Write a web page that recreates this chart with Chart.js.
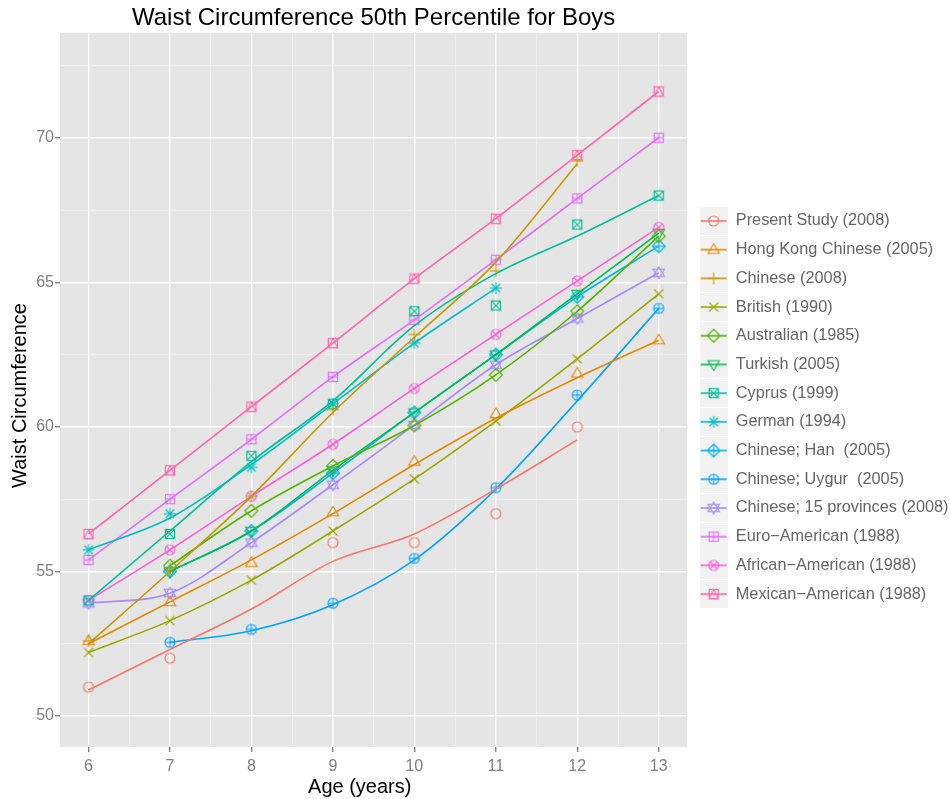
<!DOCTYPE html>
<html>
<head>
<meta charset="utf-8">
<script src="https://cdn.jsdelivr.net/npm/chart.js@4/dist/chart.umd.min.js"></script>
<style>
  html, body { margin: 0; padding: 0; background: #fff; }
  #chart { display: block; }
</style>
</head>
<body>
<canvas id="chart" width="950" height="799"></canvas>
<script>
// ages on the x axis
const ages = [6, 7, 8, 9, 10, 11, 12, 13];
const xTicks = [6, 7, 8, 9, 10, 11, 12, 13];
const yTicks = [50, 55, 60, 65, 70];

const seriesNames = [
  'Present Study (2008)', 'Hong Kong Chinese (2005)', 'Chinese (2008)', 'British (1990)',
  'Australian (1985)', 'Turkish (2005)', 'Cyprus (1999)', 'German (1994)',
  'Chinese; Han  (2005)', 'Chinese; Uygur  (2005)', 'Chinese; 15 provinces (2008)',
  'Euro\u2212American (1988)', 'African\u2212American (1988)', 'Mexican\u2212American (1988)'
];

// observed 50th percentile values, ages 6..13 (null = not reported)
const presentStudy   = [51.0, 52.0, null, 56.0, 56.0, 57.0, 60.0, null];
const hongKong       = [52.6, 53.95, 55.3, 57.05, 58.8, 60.45, 61.85, 63.0];
const chinese2008    = [52.6, 55.1, 57.6, 60.6, 63.2, 65.4, 69.2, null];
const british        = [52.2, 53.3, 54.7, 56.4, 58.2, 60.2, 62.35, 64.6];
const australian     = [null, 55.2, 57.1, 58.65, 60.05, 61.8, 64.0, 66.6];
const turkish        = [null, 55.0, 56.4, 58.5, 60.5, 62.5, 64.6, 66.7];
const cyprus         = [54.0, 56.3, 59.0, 60.8, 64.0, 64.2, 67.0, 68.0];
const german         = [55.75, 57.0, 58.6, 60.8, 62.9, 64.8, null, null];
const chineseHan     = [null, 55.0, 56.4, 58.4, 60.5, 62.5, 64.5, 66.25];
const chineseUygur   = [null, 52.55, 53.0, 53.9, 55.45, 57.9, 61.1, 64.1];
const chinese15      = [53.9, 54.25, 56.0, 58.0, 60.07, 62.15, 63.75, 65.33];
const euroAmerican   = [55.4, 57.5, 59.57, 61.73, 63.7, 65.78, 67.9, 70.0];
const africanAmerican = [54.0, 55.75, 57.6, 59.4, 61.33, 63.2, 65.05, 66.9];
const mexicanAmerican = [56.3, 58.5, 60.7, 62.9, 65.13, 67.2, 69.4, 71.6];

// smoothed curves where they differ from the points
const presentStudyFit = [50.9, 52.3, 53.7, 55.35, 56.3, 57.85, 59.55, null];
const hongKongFit     = [52.5, 53.95, 55.4, 57.0, 58.7, 60.3, 61.7, 63.0];
const chinese2008Fit  = [52.5, 55.0, 57.6, 60.5, 63.1, 65.7, 69.1, null];
const cyprusFit       = [54.0, 56.4, 58.8, 60.9, 63.5, 65.3, 66.6, 68.0];
const germanFit       = [55.75, 56.85, 58.7, 60.8, 62.9, 64.8, null, null];
const chineseUygurFit = [null, 52.55, 52.95, 53.85, 55.4, 57.85, 60.9, 64.1];

const pointSets = [presentStudy, hongKong, chinese2008, british, australian, turkish, cyprus,
  german, chineseHan, chineseUygur, chinese15, euroAmerican, africanAmerican, mexicanAmerican];
const fitSets = [presentStudyFit, hongKongFit, chinese2008Fit, british, australian, turkish, cyprusFit,
  germanFit, chineseHan, chineseUygurFit, chinese15, euroAmerican, africanAmerican, mexicanAmerican];

const colors = ['#F8766D', '#E38900', '#C49A00', '#99A800', '#53B400', '#00BC56', '#00C094',
  '#00BFC4', '#00B6EB', '#06A4FF', '#A58AFF', '#DF70F8', '#FB61D7', '#FF66A8'];

// ggplot-like open shapes 1..14
function drawShape(g, shape, color, x, y, r) {
  g.strokeStyle = color;
  g.lineWidth = 1.1;
  const seg = (x1, y1, x2, y2) => { g.beginPath(); g.moveTo(x1, y1); g.lineTo(x2, y2); g.stroke(); };
  const poly = pts => {
    g.beginPath();
    pts.forEach((p, i) => i ? g.lineTo(x + p[0], y + p[1]) : g.moveTo(x + p[0], y + p[1]));
    g.closePath(); g.stroke();
  };
  const circle = () => { g.beginPath(); g.arc(x, y, r, 0, Math.PI * 2); g.stroke(); };
  const s = r * 0.92;
  const square = () => g.strokeRect(x - s, y - s, 2 * s, 2 * s);
  const h = r * 1.2;
  const triUp = () => poly([[0, -h], [h * 0.95, h * 0.62], [-h * 0.95, h * 0.62]]);
  const triDown = () => poly([[0, h], [h * 0.95, -h * 0.62], [-h * 0.95, -h * 0.62]]);
  const plus = k => { seg(x - k, y, x + k, y); seg(x, y - k, x, y + k); };
  const cross = k => { seg(x - k, y - k, x + k, y + k); seg(x - k, y + k, x + k, y - k); };
  const d = r * 1.3;
  const diamond = () => poly([[0, -d], [d, 0], [0, d], [-d, 0]]);
  switch (shape) {
    case 1: circle(); break;
    case 2: triUp(); break;
    case 3: plus(r * 1.2); break;
    case 4: cross(r * 0.9); break;
    case 5: diamond(); break;
    case 6: triDown(); break;
    case 7: square(); cross(s); break;
    case 8: plus(r * 1.2); cross(r * 0.85); break;
    case 9: diamond(); plus(d); break;
    case 10: circle(); plus(r); break;
    case 11: triUp(); triDown(); break;
    case 12: square(); plus(s); break;
    case 13: circle(); cross(r * 0.7); break;
    case 14: square(); poly([[-s, s], [s, s], [0, -s]]); break;
  }
}

function pointImage(i) {
  const c = document.createElement('canvas');
  c.width = 16; c.height = 16;
  drawShape(c.getContext('2d'), i + 1, colors[i], 8, 8, 5);
  return c;
}

function keyImage(i) {
  const c = document.createElement('canvas');
  c.width = 28; c.height = 28;
  const g = c.getContext('2d');
  g.fillStyle = '#f2f2f2';
  g.fillRect(0, 0, 28, 28);
  g.strokeStyle = colors[i];
  g.lineWidth = 1.6;
  g.beginPath(); g.moveTo(1, 14); g.lineTo(27, 14); g.stroke();
  drawShape(g, i + 1, colors[i], 14, 14, 5);
  return c;
}

const toXY = arr => ages.map((a, k) => ({ x: a, y: arr[k] })).filter(p => p.y !== null);

const datasets = [];
seriesNames.forEach((name, i) => {
  datasets.push({
    type: 'line', label: name + ' fit', data: toXY(fitSets[i]),
    borderColor: colors[i], borderWidth: 1.6, pointRadius: 0, fill: false,
    cubicInterpolationMode: 'monotone', order: 1
  });
  datasets.push({
    type: 'scatter', label: name, data: toXY(pointSets[i]),
    pointStyle: pointImage(i), pointRadius: 5, showLine: false, order: 2
  });
});

const panel = {
  id: 'panel',
  beforeDraw(chart) {
    const { ctx, chartArea: a } = chart;
    ctx.save();
    ctx.fillStyle = '#ffffff';
    ctx.fillRect(0, 0, chart.width, chart.height);
    ctx.fillStyle = '#e5e5e5';
    ctx.fillRect(a.left, a.top, a.right - a.left, a.bottom - a.top);
    ctx.restore();
  }
};

const font = 'Liberation Sans, Arial, Helvetica, sans-serif';
const keys = seriesNames.map((_, i) => keyImage(i));

new Chart(document.getElementById('chart'), {
  data: { datasets },
  plugins: [panel],
  options: {
    responsive: false,
    animation: false,
    devicePixelRatio: 1,
    layout: { padding: { right: -13, top: 0, bottom: 0, left: 0 } },
    plugins: {
      tooltip: { enabled: false },
      title: {
        display: true, fullSize: false,
        text: 'Waist Circumference 50th Percentile for Boys',
        color: '#000', font: { family: font, size: 24, weight: 'normal', lineHeight: 1.2 },
        padding: { top: 4, bottom: 0 }
      },
      legend: {
        position: 'right',
        maxWidth: 320,
        title: { display: true, text: '', font: { size: 10, lineHeight: 1.2 }, padding: { top: 2, bottom: 2 } },
        labels: {
          usePointStyle: true, pointStyleWidth: 28, padding: 12.4,
          color: '#1a1a1a', font: { family: font, size: 16.3 },
          generateLabels: chart => seriesNames.map((name, i) => ({
            text: name + '\u00a0', pointStyle: keys[i], fillStyle: colors[i],
            strokeStyle: 'rgba(0,0,0,0)', lineWidth: 0, hidden: false, datasetIndex: i * 2 + 1
          }))
        }
      }
    },
    scales: {
      x: {
        type: 'linear', min: 5.65, max: 13.35,
        afterBuildTicks: s => { s.ticks = [];
          xTicks.forEach((v, k) => { s.ticks.push({ value: v }); if (k < xTicks.length - 1) s.ticks.push({ value: v + 0.5 }); }); },
        afterFit: s => { s.height = 52; },
        border: { display: false },
        grid: {
          color: c => Number.isInteger(c.tick.value) ? '#ffffff' : '#f2f2f2',
          lineWidth: c => Number.isInteger(c.tick.value) ? 1.4 : 0.7,
          tickColor: c => Number.isInteger(c.tick.value) ? '#7f7f7f' : 'rgba(0,0,0,0)',
          tickLength: 5
        },
        ticks: {
          autoSkip: false, maxRotation: 0, padding: 5, color: '#7f7f7f',
          font: { family: font, size: 16 },
          callback: v => Number.isInteger(v) ? String(v) : ''
        },
        title: {
          display: true, text: 'Age (years)\u00a0\u00a0\u00a0\u00a0\u00a0', color: '#000',
          font: { family: font, size: 20, lineHeight: 1.2 }, padding: { top: 0, bottom: 0 }
        }
      },
      y: {
        type: 'linear', min: 48.93, max: 73.63,
        afterBuildTicks: s => { s.ticks = [];
          yTicks.forEach(v => { s.ticks.push({ value: v }); s.ticks.push({ value: v + 2.5 }); }); },
        afterFit: s => { s.width = 60; },
        border: { display: false },
        grid: {
          color: c => c.tick.value % 5 === 0 ? '#ffffff' : '#f2f2f2',
          lineWidth: c => c.tick.value % 5 === 0 ? 1.4 : 0.7,
          tickColor: c => c.tick.value % 5 === 0 ? '#7f7f7f' : 'rgba(0,0,0,0)',
          tickLength: 5
        },
        ticks: {
          autoSkip: false, padding: 1, color: '#7f7f7f',
          font: { family: font, size: 16 },
          callback: v => v % 5 === 0 ? String(v) : ''
        },
        title: {
          display: true, text: 'Waist Circumference\u00a0\u00a0', color: '#000',
          font: { family: font, size: 20, lineHeight: 1.2 }, padding: { top: 8, bottom: 0 }
        }
      }
    }
  }
});
</script>
</body>
</html>
